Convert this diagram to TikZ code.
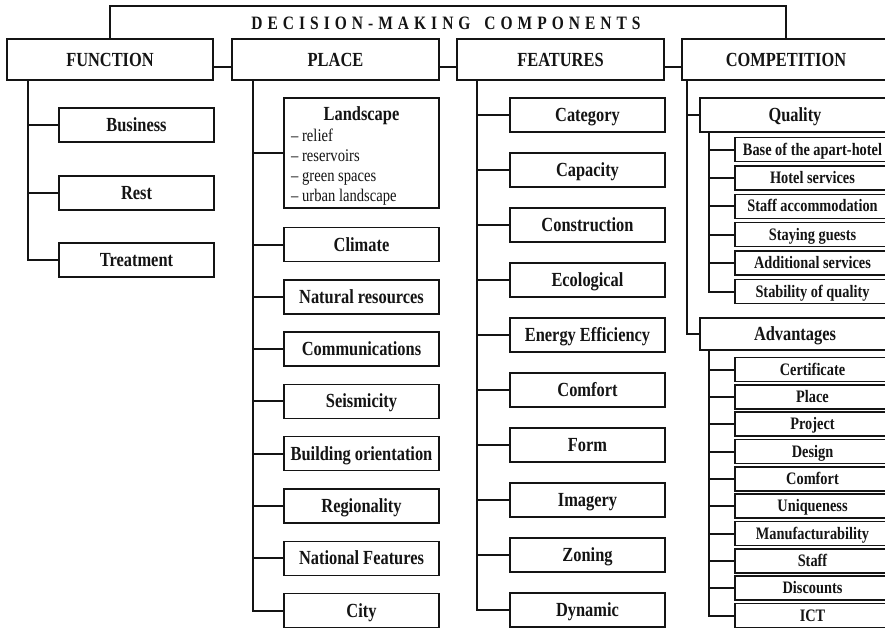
\documentclass[tikz,border=0pt]{standalone}
\usepackage{fontspec}
\setmainfont{Liberation Serif}[FakeStretch=0.82]
\newfontfamily\titlefont{Liberation Serif}[FakeStretch=0.82,LetterSpace=26.5]
\definecolor{ink}{gray}{0.08}
\tikzset{
  box/.style={draw=ink, line width=1.5pt, fill=white, inner sep=0pt, text=ink,
    text height=18pt, text depth=5pt,
    font=\fontsize{20}{22}\selectfont\bfseries},
  hdr/.style={box, minimum height=41pt},
  item/.style={box, minimum width=155pt, minimum height=34pt},
  sub/.style={box, minimum width=155pt, minimum height=24pt,
    text height=15.7pt, text depth=4.4pt,
    font=\fontsize{17.5}{19}\selectfont\bfseries},
  conn/.style={draw=ink, line width=2pt},
  lsitem/.style={anchor=base west, inner sep=0pt, text=ink, font=\fontsize{17.8}{19}\selectfont}
}
\begin{document}
\begin{tikzpicture}[x=1pt,y=-1pt]
\useasboundingbox (0,0) rectangle (885,629);
\clip (0,0) rectangle (885,629);
\fill[white] (0,0) rectangle (885,629);

% headers
\node[hdr, minimum width=206pt] (fn) at (110,59.5) {FUNCTION};
\node[hdr, minimum width=207pt] (pl) at (335.5,59.5) {PLACE};
\node[hdr, minimum width=207pt] (fe) at (560.5,59.5) {FEATURES};
\node[hdr, minimum width=208pt] (co) at (786,59.5) {COMPETITION};

% top frame and title
\draw[conn] (fn.north) -- ++(0,-32) -| (co.north);
\node[inner sep=0pt, text=ink, font=\titlefont\fontsize{18.9}{20}\selectfont\bfseries] (title) at (446,23) {DECISION-MAKING\hspace{5pt} COMPONENTS};

% header links
\draw[conn] ([yshift=-7.5pt]fn.east) -- ([yshift=-7.5pt]pl.west);
\draw[conn] ([yshift=-7.5pt]pl.east) -- ([yshift=-7.5pt]fe.west);
\draw[conn] ([yshift=-7.5pt]fe.east) -- ([yshift=-7.5pt]co.west);

% FUNCTION column
\coordinate (fx) at (28,80);
\node[item] (bus) at (136.5,125) {Business};
\node[item] (rest) at (136.5,193) {Rest};
\node[item] (treat) at (136.5,260) {Treatment};
\draw[conn] (fx) |- (treat.west);
\foreach \n in {bus,rest} \draw[conn] (fx |- \n.west) -- (\n.west);

% PLACE column
\coordinate (px) at (253,80);
\node[box, minimum width=155pt, minimum height=110pt] (land) at (361.5,153) {};
\node[inner sep=0pt, text=ink, font=\fontsize{20}{22}\selectfont\bfseries] (landt) at (361.5,116) {Landscape};
\node[lsitem] (l1) at (291,141.5) {– relief};
\node[lsitem] (l2) at (291,161.5) {– reservoirs};
\node[lsitem] (l3) at (291,181.5) {– green spaces};
\node[lsitem] (l4) at (291,201.5) {– urban landscape};
\node[item] (clim) at (361.5,244.5) {Climate};
\node[item] (nat) at (361.5,296.8) {Natural resources};
\node[item] (comm) at (361.5,349.1) {Communications};
\node[item] (seis) at (361.5,401.4) {Seismicity};
\node[item] (bld) at (361.5,453.7) {Building orientation};
\node[item] (reg) at (361.5,506) {Regionality};
\node[item] (natf) at (361.5,558.3) {National Features};
\node[item] (city) at (361.5,610.6) {City};
\draw[conn] (px) |- (city.west);
\foreach \n in {land,clim,nat,comm,seis,bld,reg,natf} \draw[conn] (px |- \n.west) -- (\n.west);

% FEATURES column
\coordinate (fex) at (477,80);
\node[item] (cat) at (587.5,115) {Category};
\node[item] (cap) at (587.5,170) {Capacity};
\node[item] (cons) at (587.5,225) {Construction};
\node[item] (eco) at (587.5,280) {Ecological};
\node[item] (ener) at (587.5,335) {Energy Efficiency};
\node[item] (comf) at (587.5,390) {Comfort};
\node[item] (form) at (587.5,445) {Form};
\node[item] (imag) at (587.5,500) {Imagery};
\node[item] (zon) at (587.5,555) {Zoning};
\node[item] (dyn) at (587.5,610) {Dynamic};
\draw[conn] (fex) |- (dyn.west);
\foreach \n in {cat,cap,cons,eco,ener,comf,form,imag,zon} \draw[conn] (fex |- \n.west) -- (\n.west);

% COMPETITION column
\coordinate (cx) at (687,80);
\node[box, minimum width=190pt, minimum height=34pt] (qual) at (795,115) {Quality};
\node[box, minimum width=190pt, minimum height=32pt] (adv) at (795,334) {Advantages};
\draw[conn] (cx) |- (adv.west);
\draw[conn] (cx |- qual.west) -- (qual.west);

% Quality sub-items
\coordinate (qx) at (709,132);
\node[sub] (q1) at (812.5,149.5) {Base of the apart-hotel};
\node[sub] (q2) at (812.5,177.9) {Hotel services};
\node[sub] (q3) at (812.5,206.3) {Staff accommodation};
\node[sub] (q4) at (812.5,234.7) {Staying guests};
\node[sub] (q5) at (812.5,263.1) {Additional services};
\node[sub] (q6) at (812.5,291.5) {Stability of quality};
\draw[conn] (qx) |- (q6.west);
\foreach \n in {q1,q2,q3,q4,q5} \draw[conn] (qx |- \n.west) -- (\n.west);

% Advantages sub-items
\coordinate (ax) at (709,350);
\node[sub] (a1) at (812.5,369.5) {Certificate};
\node[sub] (a2) at (812.5,396.8) {Place};
\node[sub] (a3) at (812.5,424.2) {Project};
\node[sub] (a4) at (812.5,451.5) {Design};
\node[sub] (a5) at (812.5,478.8) {Comfort};
\node[sub] (a6) at (812.5,506.2) {Uniqueness};
\node[sub] (a7) at (812.5,533.5) {Manufacturability};
\node[sub] (a8) at (812.5,560.8) {Staff};
\node[sub] (a9) at (812.5,588.1) {Discounts};
\node[sub] (a10) at (812.5,615.5) {ICT};
\draw[conn] (ax) |- (a10.west);
\foreach \n in {a1,a2,a3,a4,a5,a6,a7,a8,a9} \draw[conn] (ax |- \n.west) -- (\n.west);
\end{tikzpicture}
\end{document}
